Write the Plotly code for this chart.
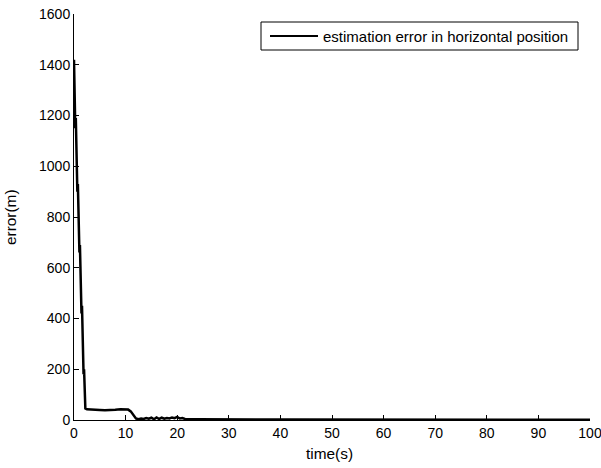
import plotly.graph_objects as go

# ---- data ----
time_s = [0.0, 0.08, 0.15, 0.25, 0.35, 0.45, 0.55, 0.65, 0.75, 0.85, 0.95,
          1.05, 1.15, 1.25, 1.35, 1.45, 1.55, 1.65, 1.75, 1.85, 1.95, 2.05,
          2.2, 2.5, 3, 4, 5, 6, 7, 8, 9, 10, 10.5, 11, 11.5, 12,
          12.5, 13, 13.5, 14, 14.5, 15, 15.5, 16, 16.5, 17, 17.5, 18, 18.5,
          19, 19.5, 20, 20.5, 21, 21.5, 22,
          24, 27, 30, 33, 36, 40, 45, 50, 55, 60, 65, 70, 75, 80, 85, 90, 95, 100]
error_m = [1420, 1240, 1330, 1150, 1190, 1020, 1060, 900, 930, 780, 810,
           660, 690, 540, 570, 420, 450, 300, 320, 180, 200, 70,
           45, 42, 41, 40, 39, 38, 38, 40, 42, 43, 41, 34, 20, 6,
           3, 6, 4, 8, 5, 9, 3, 10, 4, 9, 5, 8, 6,
           10, 7, 12, 6, 8, 4, 3,
           2.5, 3, 2, 2.5, 2, 2, 1.8, 2, 1.5, 1.8, 1.5, 1.5, 1.2, 1.5, 1.2, 1.2, 1, 1]

series_name = "estimation error in horizontal position"
x_label = "time(s)"
y_label = "error(m)"

# ---- geometry (body margin is removed by post_script, so window px = figure px) ----
W, H = 601, 468
L, R, T, B = 74, 11, 14, 48
PW, PH = W - L - R, H - T - B


def px(x):   # window pixel -> paper x
    return (x - L) / PW


def py(y):   # window pixel -> paper y
    return (H - B - y) / PH


FONT = "Arial, 'Liberation Sans', sans-serif"

fig = go.Figure()
fig.add_trace(go.Scatter(x=time_s, y=error_m, mode="lines",
                         line=dict(color="black", width=2.5),
                         name=series_name, showlegend=False,
                         cliponaxis=False))

axis_common = dict(showgrid=False, zeroline=False, showline=True,
                   linecolor="black", linewidth=1, ticks="inside",
                   ticklen=5, tickcolor="black", tickwidth=1,
                   tickfont=dict(family=FONT, size=14, color="black"),
                   ticklabeloverflow="allow",
                   mirror=False, automargin=False)

fig.update_layout(
    template="none",
    width=W, height=H,
    margin=dict(l=L, r=R, t=T, b=B, pad=0),
    plot_bgcolor="white", paper_bgcolor="white",
    xaxis=dict(range=[0, 100], dtick=10, tick0=0, **axis_common),
    yaxis=dict(range=[0, 1600], dtick=200, tick0=0, **axis_common),
    showlegend=False,
)

# legend box (MATLAB-style)
fig.add_shape(type="rect", xref="paper", yref="paper",
              x0=px(261), x1=px(578), y0=py(50), y1=py(22),
              line=dict(color="black", width=1), fillcolor="white", layer="above")
fig.add_shape(type="line", xref="paper", yref="paper",
              x0=px(270), x1=px(318), y0=py(36), y1=py(36),
              line=dict(color="black", width=2), layer="above")
fig.add_annotation(xref="paper", yref="paper", x=px(321), y=py(36),
                   xanchor="left", yanchor="middle", showarrow=False,
                   text=series_name,
                   font=dict(family=FONT, size=15, color="black"))

# axis titles
fig.add_annotation(xref="paper", yref="paper", x=px(329), y=py(453),
                   xanchor="center", yanchor="middle", showarrow=False,
                   text=x_label, font=dict(family=FONT, size=15.4, color="black"))
fig.add_annotation(xref="paper", yref="paper", x=px(10), y=py(217),
                   xanchor="center", yanchor="middle", showarrow=False,
                   textangle=-90, text=y_label,
                   font=dict(family=FONT, size=15.4, color="black"))

fig.write_html(
    "out.html",
    config={"displayModeBar": False},
    post_script="document.body.style.margin='0px';document.body.style.padding='0px';",
)
